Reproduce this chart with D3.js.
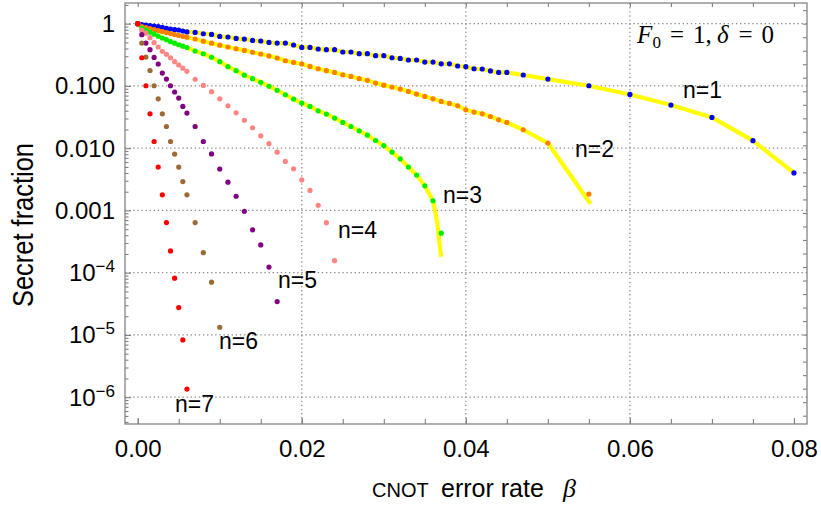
<!DOCTYPE html>
<html>
<head>
<meta charset="utf-8">
<script src="https://cdn.jsdelivr.net/npm/d3@7/dist/d3.min.js"></script>
<style>
html,body{margin:0;padding:0;background:#fff;}
svg text{font-family:"Liberation Sans",Arial,Helvetica,sans-serif;fill:#000;}
</style>
</head>
<body>
<svg id="chart" width="821" height="506"></svg>
<script>
// ---------------- data ----------------
const n1Beta = [0,0.0005,0.001,0.0015,0.002,0.0025,0.003,0.0035,0.004,0.0045,0.005,0.0055,0.006,
  0.007,0.008,0.009,0.010,0.011,0.012,0.013,0.014,0.015,0.016,0.017,
  0.018,0.019,0.020,0.021,0.022,0.023,0.024,0.025,0.026,0.027,0.028,0.029,0.030,0.031,0.032,0.033,0.034,0.035,0.036,0.037,0.038,0.039,0.040,0.041,0.042,0.043,0.044,0.045,
  0.047,0.050,0.055,0.060,0.065,0.070,0.075,0.080];
const n1Val = [1,0.964,0.953,0.936,0.918,0.898,0.875,0.840,0.822,0.801,0.792,0.763,0.738,
  0.725,0.690,0.673,0.625,0.611,0.580,0.567,0.539,0.527,0.500,0.489,
  0.489,0.455,0.416,0.416,0.392,0.382,0.382,0.351,0.351,0.330,0.330,0.306,0.306,0.284,0.277,0.261,0.261,0.242,0.242,0.227,0.227,0.209,0.204,0.189,0.187,0.174,0.165,0.165,
  0.150,0.129,0.1007,0.073,0.0493,0.0312,0.0132,0.0040];

const n2Beta = [0,0.0005,0.001,0.0015,0.002,0.0025,0.003,0.0035,0.004,0.0045,0.005,0.0055,0.006,
  0.007,0.008,0.009,0.010,0.011,0.012,0.013,0.014,0.015,0.016,0.017,
  0.018,0.019,0.020,0.021,0.022,0.023,0.024,0.025,0.026,0.027,0.028,0.029,0.030,0.031,0.032,0.033,0.034,0.035,0.036,0.037,0.038,0.039,0.040,0.041,0.042,0.043,0.044,0.045,
  0.047,0.050,0.055];
const n2Val = [1,0.898,0.869,0.834,0.807,0.775,0.746,0.719,0.693,0.668,0.646,0.627,0.607,
  0.568,0.523,0.486,0.451,0.422,0.396,0.372,0.348,0.326,0.304,0.281,
  0.254,0.239,0.225,0.206,0.189,0.176,0.165,0.151,0.142,0.131,0.123,0.111,0.103,0.0960,0.0891,0.0816,0.0741,0.0678,0.0622,0.0564,0.0523,0.0481,0.0414,0.0380,0.0357,0.0323,0.0286,0.0259,
  0.0198,0.0121,0.00183];

const n3Beta = [0,0.0005,0.001,0.0015,0.002,0.0025,0.003,0.0035,0.004,0.0045,0.005,0.0055,0.006,
  0.007,0.008,0.009,0.010,0.011,0.012,0.013,0.014,0.015,0.016,0.017,
  0.018,0.019,0.020,0.021,0.022,0.023,0.024,0.025,0.026,0.027,0.028,0.029,0.030,0.031,0.032,0.033,0.034,0.035,0.036,0.037];
const n3Val = [1,0.847,0.786,0.730,0.678,0.630,0.589,0.553,0.514,0.486,0.459,0.435,0.414,
  0.364,0.329,0.289,0.245,0.204,0.176,0.149,0.131,0.1147,0.0989,0.0853,
  0.0722,0.0616,0.0531,0.0468,0.0399,0.0353,0.0305,0.0259,0.0223,0.0190,0.0162,0.0133,0.0110,0.00865,0.00676,0.00497,0.00370,0.00249,0.00143,0.000431];

const n4Beta = [0,0.0005,0.001,0.0015,0.002,0.0025,0.003,0.0035,0.004,0.0045,0.005,0.0055,0.006,
  0.007,0.008,0.009,0.010,0.011,0.012,0.013,0.014,0.015,0.016,0.017,0.018,0.019,0.020,0.021,0.022,0.023,0.024];
const n4Val = [1,0.786,0.704,0.596,0.495,0.422,0.361,0.323,0.284,0.245,0.217,0.193,0.172,
  0.128,0.1019,0.0809,0.0622,0.0481,0.0370,0.0281,0.0213,0.0158,0.0118,0.00862,0.00613,0.00466,0.00309,0.00210,0.00121,0.000637,0.000156];

const n5Beta = [0,0.0005,0.001,0.0015,0.002,0.0025,0.003,0.0035,0.004,0.0045,0.005,0.0055,0.006,
  0.007,0.008,0.009,0.010,0.011,0.012,0.013,0.014,0.015,0.016,0.017];
const n5Val = [1,0.665,0.489,0.382,0.287,0.225,0.161,0.129,0.1007,0.0799,0.0638,0.0468,0.0366,
  0.0223,0.0128,0.00808,0.00463,0.00285,0.00169,0.000969,0.000489,0.000279,0.000123,0.0000344];

const n6Beta = [0,0.0005,0.001,0.0015,0.002,0.0025,0.003,0.0035,0.004,0.0045,0.005,0.0055,0.006,
  0.007,0.008,0.009,0.010];
const n6Val = [1,0.489,0.291,0.177,0.1007,0.0622,0.0357,0.0223,0.0128,0.00804,0.00497,0.00291,0.00178,
  0.000639,0.000210,0.0000703,0.0000133];

const n7Beta = [0,0.0005,0.001,0.0015,0.002,0.0025,0.003,0.0035,0.004,0.0045,0.005,0.0055,0.006];
const n7Val = [1,0.284,0.1007,0.0357,0.0128,0.00497,0.00178,0.000639,0.000224,0.0000816,0.0000275,0.00000831,0.00000135];

// ends of the yellow (analytic) curves below the last dots
const tail2Beta = [0.0552];
const tail2Val = [0.00128];
const tail3Beta = [0.03646,0.03666,0.03699];
const tail3Val = [0.000706,0.000431,0.000181];

const seriesNames = ["n=1","n=2","n=3","n=4","n=5","n=6","n=7"];
const xTickValues = [0, 0.02, 0.04, 0.06, 0.08];
const xTickLabels = ["0.00","0.02","0.04","0.06","0.08"];
const xGridValues = [0.02, 0.04, 0.06];
const yTickValues = [1, 0.1, 0.01, 0.001, 1e-4, 1e-5, 1e-6];
const yTickBase = ["1","0.100","0.010","0.001","10","10","10"];
const yTickExp  = ["","","","","\u22124","\u22125","\u22126"];

// ---------------- layout ----------------
const X0 = 125, X1 = 807, Y0 = 3, Y1 = 424;
const colors = ["#0000ff","#ff8000","#00ee00","#ff8585","#800080","#9c6b35","#ff0000"];
const labelPos = [[683,98],[575,157],[443,203],[338,238],[278,288],[219,349],[175,412]];

const svg = d3.select("#chart");
const x = d3.scaleLinear().domain([-0.00155, 0.08159]).range([X0, X1]);
const y = d3.scaleLog().domain([3.71e-7, 2.15]).range([Y1, Y0]);

// grid
const gridStyle = s => s.attr("stroke","#8c8c8c").attr("stroke-width",1.25).attr("stroke-dasharray","1.4 2.7");
svg.append("g").selectAll("line").data(yTickValues).join("line")
  .attr("x1",X0).attr("x2",X1).attr("y1",d=>y(d)).attr("y2",d=>y(d)).call(gridStyle);
svg.append("g").selectAll("line").data(xGridValues).join("line")
  .attr("y1",Y0).attr("y2",Y1).attr("x1",d=>x(d)).attr("x2",d=>x(d)).call(gridStyle);

// axes (inward ticks)
const clean = g => {
  g.attr("font-size",null).attr("font-family",null);
  g.select(".domain").remove();
  g.selectAll(".tick line").attr("stroke","#808080").attr("stroke-width",1.1);
};
const xMinor = d3.range(0, 0.0801, 0.005);
svg.append("g").attr("transform",`translate(0,${Y1})`)
  .call(d3.axisBottom(x).tickValues(xMinor).tickSize(-5).tickFormat("")).call(clean);
svg.append("g").attr("transform",`translate(0,${Y0})`)
  .call(d3.axisTop(x).tickValues(xMinor).tickSize(-4).tickFormat("")).call(clean);
const xAx = svg.append("g").attr("transform",`translate(0,${Y1})`)
  .call(d3.axisBottom(x).tickValues(xTickValues).tickSize(-6).tickPadding(15.7)
    .tickFormat((d,i)=>xTickLabels[i])).call(clean);
xAx.selectAll("text").attr("font-size",24);

const yMinor = [];
for (let e = -7; e <= 0; e++) for (let m = 2; m <= 9; m++) {
  const v = m * Math.pow(10, e);
  if (v > 3.71e-7 && v < 2.15) yMinor.push(v);
}
svg.append("g").attr("transform",`translate(${X0},0)`)
  .call(d3.axisLeft(y).tickValues(yMinor).tickSize(-3.5).tickFormat("")).call(clean);
svg.append("g").attr("transform",`translate(${X0},0)`)
  .call(d3.axisLeft(y).tickValues(yTickValues).tickSize(-6).tickFormat("")).call(clean);
const rightTicks = d3.range(-1, 31).map(k => Math.exp(-k/2)).filter(v => v > 3.71e-7 && v < 2.15);
svg.append("g").attr("transform",`translate(${X1},0)`)
  .call(d3.axisRight(y).tickValues(rightTicks).tickSize(-4).tickFormat("")).call(clean);

// y tick labels
const yl = svg.append("g").selectAll("text").data(yTickValues).join("text")
  .attr("x", X0 - 10).attr("y", d => y(d)).attr("dy","0.35em")
  .attr("text-anchor","end").attr("font-size",24);
yl.append("tspan").text((d,i)=>yTickBase[i]);
yl.append("tspan").attr("font-size",17).attr("dy",(d,i)=>yTickExp[i] ? -9 : 0).text((d,i)=>yTickExp[i]);

// frame
svg.append("rect").attr("x",X0).attr("y",Y0).attr("width",X1-X0).attr("height",Y1-Y0)
  .attr("fill","none").attr("stroke","#858585").attr("stroke-width",1.3);

// yellow curves
const pts = (b, v) => b.map((d,i)=>[d, v[i]]);
const line = d3.line().x(d=>x(d[0])).y(d=>y(d[1]));
const yellow = [
  pts(n1Beta, n1Val),
  pts(n2Beta, n2Val).filter(d => d[0] <= 0.050).concat(pts(tail2Beta, tail2Val)),
  pts(n3Beta, n3Val).filter(d => d[0] <= 0.036).concat(pts(tail3Beta, tail3Val))
];
svg.append("g").selectAll("path").data(yellow).join("path")
  .attr("d", line).attr("fill","none").attr("stroke","#ffff00")
  .attr("stroke-width",4.2).attr("stroke-linejoin","round");

// dots
const series = [
  pts(n1Beta,n1Val), pts(n2Beta,n2Val), pts(n3Beta,n3Val), pts(n4Beta,n4Val),
  pts(n5Beta,n5Val), pts(n6Beta,n6Val), pts(n7Beta,n7Val)
];
series.forEach((s, k) => {
  svg.append("g").selectAll("circle").data(s).join("circle")
    .attr("cx", d => x(d[0])).attr("cy", d => y(d[1])).attr("r", 2.6)
    .attr("fill", colors[k]);
});

// series labels
svg.append("g").selectAll("text").data(seriesNames).join("text")
  .attr("x",(d,i)=>labelPos[i][0]).attr("y",(d,i)=>labelPos[i][1])
  .attr("font-size",23).text(d=>d);

// annotation F0 = 1, delta = 0
const annParts = [
  {t:"F", x:637, it:true, fs:25, dy:0},
  {t:"0", x:652.5, it:false, fs:17, dy:5},
  {t:"=", x:670, it:false, fs:25, dy:0},
  {t:"1,", x:693, it:false, fs:25, dy:0},
  {t:"\u03b4", x:717, it:true, fs:25, dy:0},
  {t:"=", x:738.5, it:false, fs:25, dy:0},
  {t:"0", x:761.5, it:false, fs:25, dy:0}
];
svg.append("g").selectAll("text").data(annParts).join("text")
  .attr("x", d => d.x).attr("y", d => 43 + d.dy)
  .style("font-family",'"Liberation Serif","Times New Roman",serif')
  .attr("font-size", d => d.fs).attr("font-style", d => d.it ? "italic" : "normal")
  .text(d => d.t);

// axis titles
svg.append("text").attr("transform","translate(33,225) rotate(-90)")
  .attr("text-anchor","middle").attr("font-size",29)
  .attr("textLength",164).attr("lengthAdjust","spacingAndGlyphs").text("Secret fraction");
const xt = svg.append("text").attr("y",497);
xt.append("tspan").attr("x",372).attr("font-size",20).text("CNOT");
xt.append("tspan").attr("x",441).attr("font-size",25).text("error rate");
xt.append("tspan").attr("x",563).attr("font-size",26).attr("font-style","italic")
  .style("font-family",'"Liberation Serif","Times New Roman",serif').text("\u03b2");
</script>
</body>
</html>
